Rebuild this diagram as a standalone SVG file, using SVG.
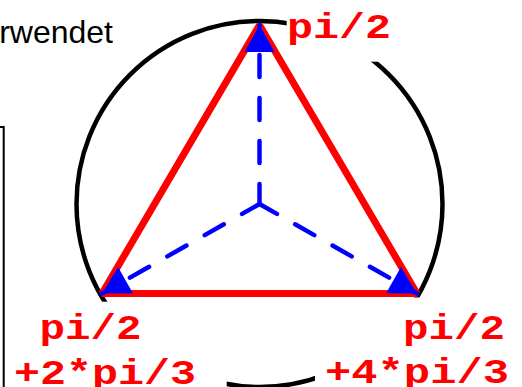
<svg xmlns="http://www.w3.org/2000/svg" width="522" height="387" viewBox="0 0 522 387">
<style>
.lbl{font-family:"Liberation Mono","Courier New",monospace;font-weight:bold;font-size:35px;fill:#ff0000}
.bg{fill:#ffffff;stroke:none}
.dash{stroke:#0000ff;stroke-width:4.5;stroke-linecap:round;stroke-dasharray:22 21;stroke-dashoffset:2;fill:none;marker-end:url(#arr)}
</style>
<defs>
<marker id="arr" markerUnits="userSpaceOnUse" viewBox="0 0 27 30" markerWidth="27" markerHeight="30" refX="27" refY="15" orient="auto" overflow="visible">
<path d="M0,0 L27,15 L0,30 z" fill="#0000ff"/>
</marker>
</defs>
<rect width="522" height="387" fill="#ffffff"/>
<g id="frame"><path d="M0,127 H3.7 V387" fill="none" stroke="#000" stroke-width="2"/></g>
<g id="caption"><text x="113" y="43.3" text-anchor="end" font-family="Liberation Sans, Arial, sans-serif" font-size="32" fill="#000">rwendet</text></g>
<g id="circle"><circle cx="259.5" cy="204" r="183" fill="none" stroke="#000" stroke-width="4.5"/></g>
<g id="label-top"><rect class="bg" x="286.7" y="0" width="110" height="61.7"/><text class="lbl" x="287" y="38" textLength="104" lengthAdjust="spacingAndGlyphs">pi/2</text></g>
<g id="label-left"><rect class="bg" x="10" y="301.7" width="216.7" height="86"/><text class="lbl" x="39.5" y="339" textLength="102" lengthAdjust="spacingAndGlyphs">pi/2</text><text class="lbl" x="14" y="384" textLength="182" lengthAdjust="spacingAndGlyphs">+2*pi/3</text></g>
<g id="label-right"><rect class="bg" x="315" y="297.5" width="207" height="90"/><text class="lbl" x="403" y="339" textLength="102" lengthAdjust="spacingAndGlyphs">pi/2</text><text class="lbl" x="325" y="383" textLength="184" lengthAdjust="spacingAndGlyphs">+4*pi/3</text></g>
<g id="triangle"><polygon points="259.5,25 417,293.5 102,293.5" fill="none" stroke="#ff0000" stroke-width="7" stroke-linejoin="bevel"/></g>
<g id="connectors">
<path class="dash" d="M259.5,204 L259.5,25"/>
<path class="dash" d="M259.5,204 L102,293.5"/>
<path class="dash" d="M259.5,204 L417,293.5"/>
</g>
</svg>
